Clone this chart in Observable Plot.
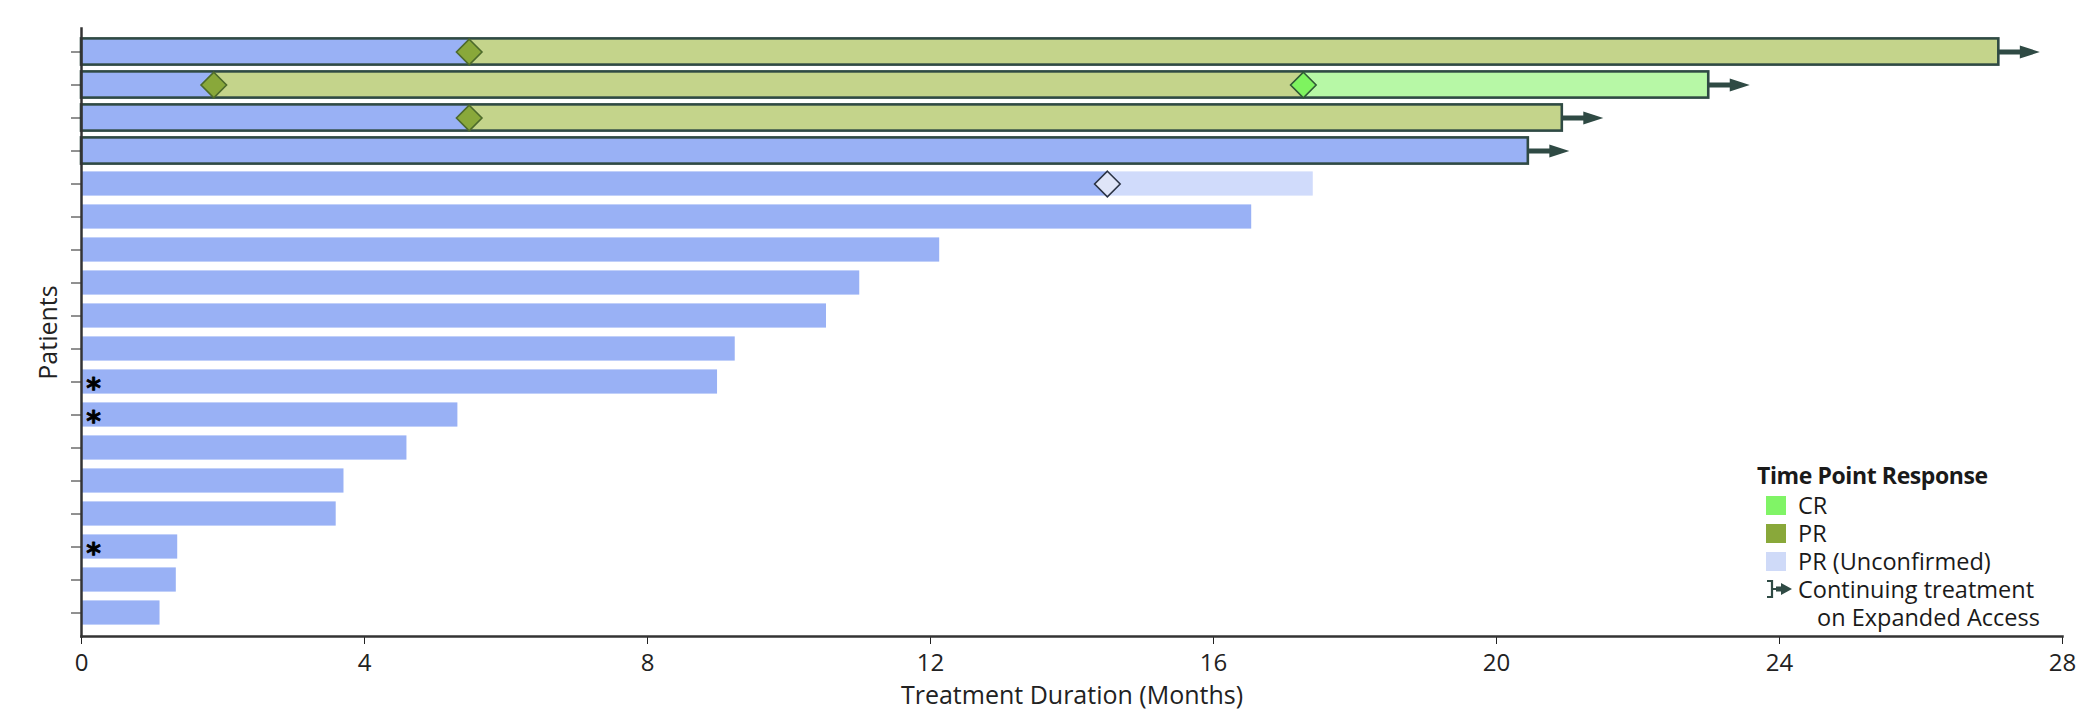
<!DOCTYPE html>
<html>
<head>
<meta charset="utf-8">
<script src="https://cdn.jsdelivr.net/npm/d3@7"></script>
<script src="https://cdn.jsdelivr.net/npm/@observablehq/plot@0.6"></script>
<style>
  html, body { margin: 0; padding: 0; background: #fff; }
  #wrap { position: relative; width: 2100px; height: 715px; font-family: "Open Sans", sans-serif; color: #1a1a1a; }
  #legend { position: absolute; left: 1757px; top: 461px; font-size: 23.5px; line-height: 28px; }
  #legend .title { font-weight: 700; font-size: 23px; letter-spacing: -0.4px; margin-bottom: 2px; }
  #legend .item { display: flex; align-items: center; height: 28px; padding-left: 9px; white-space: nowrap; }
  #legend .sw { width: 20px; height: 19px; margin-right: 12px; flex: none; }
</style>
</head>
<body>
<div id="wrap"></div>
<script>
// ---- data (months), patients ordered top to bottom ----
const patients   = [1,2,3,4,5,6,7,8,9,10,11,12,13,14,15,16,17,18];
const duration   = [27.1, 23.0, 20.93, 20.45, 17.41, 16.54, 12.13, 11.0, 10.53, 9.24, 8.99, 5.32, 4.6, 3.71, 3.6, 1.36, 1.34, 1.11];
const prOnset    = [5.48, 1.87, 5.48, null, null, null, null, null, null, null, null, null, null, null, null, null, null, null];
const crOnset    = [null, 17.27, null, null, null, null, null, null, null, null, null, null, null, null, null, null, null, null];
const uprOnset   = [null, null, null, null, 14.5, null, null, null, null, null, null, null, null, null, null, null, null, null];
const continuing = [true, true, true, true, false, false, false, false, false, false, false, false, false, false, false, false, false, false];
const flagged    = [false, false, false, false, false, false, false, false, false, false, true, true, false, false, false, true, false, false];
const xTicks     = [0, 4, 8, 12, 16, 20, 24, 28];

const responseTypes = ["None", "CR", "PR", "PR (Unconfirmed)"];
const segColors     = ["#99b1f5", "#b7f8a6", "#c4d48b", "#d0dbfb"];
const diamondFill   = {"CR": "#7ef35f", "PR": "#89a83a", "PR (Unconfirmed)": "#dfe5f8"};
const diamondStroke = {"CR": "#2f5a35", "PR": "#4d6a2b", "PR (Unconfirmed)": "#2b3344"};
const dark = "#2f4a44";

// ---- build tables from the arrays ----
const events = [];
patients.forEach((p, i) => {
  if (prOnset[i] != null) events.push({patient: p, onset: prOnset[i], type: "PR"});
  if (crOnset[i] != null) events.push({patient: p, onset: crOnset[i], type: "CR"});
  if (uprOnset[i] != null) events.push({patient: p, onset: uprOnset[i], type: "PR (Unconfirmed)"});
});
const segments = [];
patients.forEach((p, i) => {
  const ev = events.filter(e => e.patient === p).sort((a, b) => a.onset - b.onset);
  let start = 0, type = "None";
  for (const e of ev) {
    segments.push({patient: p, x1: start, x2: e.onset, type, cont: continuing[i]});
    start = e.onset; type = e.type;
  }
  segments.push({patient: p, x1: start, x2: duration[i], type, cont: continuing[i]});
});
const rows = patients.map((p, i) => ({patient: p, duration: duration[i], cont: continuing[i], flag: flagged[i]}));

const arrowSymbol = {
  draw(ctx) {
    ctx.moveTo(0, -2.6); ctx.lineTo(21, -2.6); ctx.lineTo(21, -6.5); ctx.lineTo(41, 0);
    ctx.lineTo(21, 6.5); ctx.lineTo(21, 2.6); ctx.lineTo(0, 2.6); ctx.closePath();
  }
};

const chart = Plot.plot({
  width: 2100,
  height: 715,
  marginLeft: 81,
  marginRight: 38,
  marginTop: 28,
  marginBottom: 79,
  style: {fontFamily: "'Open Sans', sans-serif", fontSize: "24px", color: "#222", background: "#fff"},
  x: {domain: [0, 28]},
  y: {domain: patients, padding: 0},
  color: {domain: responseTypes, range: segColors},
  marks: [
    Plot.barX(segments.filter(d => !d.cont), {x1: "x1", x2: "x2", y: "patient", fill: "type", insetTop: 4.4, insetBottom: 4.4}),
    Plot.barX(segments.filter(d => d.cont), {x1: "x1", x2: "x2", y: "patient", fill: "type", insetTop: 3.4, insetBottom: 3.4}),
    Plot.barX(rows.filter(d => d.cont), {x1: 0, x2: "duration", y: "patient", fill: "none", stroke: dark, strokeWidth: 2.6, insetTop: 3.4, insetBottom: 3.4}),
    Plot.dot(rows.filter(d => d.cont), {x: "duration", y: "patient", symbol: arrowSymbol, fill: dark, stroke: "none"}),
    Plot.dot(events, {x: "onset", y: "patient", symbol: "diamond2", r: 11.5,
      fill: d => diamondFill[d.type], stroke: d => diamondStroke[d.type], strokeWidth: 1.6}),
    Plot.text(rows.filter(d => d.flag), {x: 0, y: "patient", text: d => "*", dx: 12, dy: 7, fontSize: 28, fontWeight: "bold", fill: "#000", fontFamily: "DejaVu Sans", stroke: "#000", strokeWidth: 0.8}),
    Plot.axisX({ticks: xTicks, tickSize: 8, tickPadding: 9, tickFormat: d => d,
      label: "Treatment Duration (Months)", labelAnchor: "center", labelArrow: "none", labelOffset: 67, fontSize: 24}),
    Plot.axisY({tickSize: 10, tickFormat: null, label: "Patients", labelAnchor: "center", labelArrow: "none", labelOffset: 42, fontSize: 25}),
    Plot.frame({anchor: "left", stroke: "#333", strokeWidth: 2.5}),
    Plot.frame({anchor: "bottom", stroke: "#333", strokeWidth: 2.5})
  ]
});

const wrap = document.getElementById("wrap");
wrap.appendChild(chart);
// slightly larger axis title, as in the reference
chart.querySelectorAll("[aria-label='x-axis label'] text").forEach(t => t.setAttribute("font-size", "25"));

// ---- legend overlay ----
const legendItems = [
  {label: "CR", color: "#80f466"},
  {label: "PR", color: "#89a83a"},
  {label: "PR (Unconfirmed)", color: "#cfdaf8"}
];
const legend = document.createElement("div");
legend.id = "legend";
legend.innerHTML =
  `<div class="title">Time Point Response</div>` +
  legendItems.map(d => `<div class="item"><span class="sw" style="background:${d.color}"></span>${d.label}</div>`).join("") +
  `<div class="item"><svg width="26" height="20" viewBox="0 0 26 20" style="width:26px;height:20px;margin-right:6px;flex:none">` +
  `<path d="M1 2 H6 V18 H1 M6 10 H11" fill="none" stroke="${dark}" stroke-width="2.2"/>` +
  `<path d="M10 7.6 H15 V4 L26 10 L15 16 V12.4 H10 Z" fill="${dark}"/></svg>Continuing treatment</div>` +
  `<div class="item" style="padding-left:60px">on Expanded Access</div>`;
wrap.appendChild(legend);
</script>
</body>
</html>
